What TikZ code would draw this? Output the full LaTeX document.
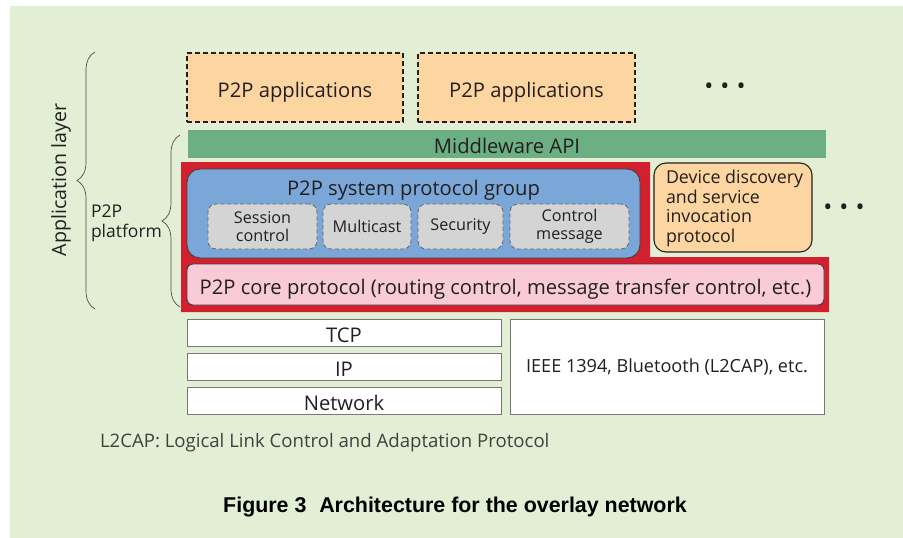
\documentclass[tikz,border=0pt]{standalone}
\usepackage{fontspec}
\setmainfont{Open Sans}
\newfontfamily\capfont{Liberation Sans}
\usetikzlibrary{decorations.pathreplacing}
\definecolor{bgc}{HTML}{E3EFD5}
\definecolor{peach}{HTML}{FDD5A0}
\definecolor{mwgreen}{HTML}{6BAF83}
\definecolor{frame}{HTML}{D2202E}
\definecolor{grpblue}{HTML}{7BA7D8}
\definecolor{subgray}{HTML}{D4D4D4}
\definecolor{corepink}{HTML}{F9CBD8}
\definecolor{ink}{HTML}{231F20}
\definecolor{edge}{HTML}{777777}
\begin{document}
\begin{tikzpicture}[x=1pt,y=-1pt,
  every node/.style={inner sep=0pt,outer sep=0pt,text=ink},
  bigtxt/.style={font=\fontsize{20.2}{24}\selectfont,text height=19.3pt,text depth=0pt},
  apps/.style={bigtxt,draw=ink,fill=peach,dashed,dash pattern=on 5pt off 3pt,line width=1.1pt},
  subbox/.style={draw=black!60,fill=subgray,dashed,dash pattern=on 4pt off 2.5pt,line width=0.8pt,rounded corners=8pt,align=center,font=\fontsize{16.2}{17.5}\selectfont,minimum height=45},
  layerbox/.style={draw=edge,fill=white,line width=1pt,bigtxt},
  bracestyle/.style={draw=black!70,line width=0.7pt,decorate,decoration={brace,amplitude=18pt}},
  dots/.style={font=\fontsize{24}{24}\selectfont}
]
\useasboundingbox (0,0) rectangle (903,538);
\fill[bgc] (10,6) rectangle (903,538);

% application boxes
\node[apps,minimum width=216,minimum height=69] (app1) at (295,87.5) {P2P applications};
\node[apps,minimum width=217,minimum height=69] (app2) at (526.5,87.5) {P2P applications};
\node[dots] (dotsA) at (725,89) {•\hspace{7.2pt}•\hspace{7.2pt}•};

% middleware
\node[fill=mwgreen,minimum width=638,minimum height=28,bigtxt] (mw) at (507,144) {Middleware API};

% red frame around the platform
\fill[frame] (181,162) -- (650,162) -- (650,257) -- (829,257) -- (829,312) -- (181,312) -- cycle;

% protocol group
\node[draw=black!75,fill=grpblue,line width=0.9pt,rounded corners=13pt,minimum width=453,minimum height=89] (grp) at (413.5,213.5) {};
\node[bigtxt] (grpt) at (413.5,185.5) {P2P system protocol group};
\node[subbox,minimum width=109] (sess) at (262.5,226.5) {Session\\control};
\node[subbox,minimum width=88] (mcast) at (367,226.5) {Multicast};
\node[subbox,minimum width=85] (sec) at (460.5,226.5) {Security};
\node[subbox,minimum width=119] (ctrl) at (569.5,226.5) {Control\\message};

% device discovery
\node[draw=ink,fill=peach,line width=1.1pt,rounded corners=12pt,minimum width=158,minimum height=89] (dev) at (733,207.5) {};
\node[anchor=west,align=left,font=\fontsize{17.8}{19.7}\selectfont] (devt) at (666,208.5) {Device discovery\\and service\\invocation\\protocol};
\node[dots] (dotsB) at (844,210) {•\hspace{7.2pt}•\hspace{7.2pt}•};

% core protocol
\node[draw=black!75,fill=corepink,line width=0.9pt,rounded corners=6pt,minimum width=637,minimum height=41,bigtxt] (core) at (505.5,284.5) {P2P core protocol (routing control, message transfer control, etc.)};

% lower layers
\node[layerbox,minimum width=314,minimum height=27] (tcp) at (344,332.5) {TCP};
\node[layerbox,minimum width=314,minimum height=27] (ip) at (344,366.5) {IP};
\node[layerbox,minimum width=314,minimum height=27] (net) at (344,400.5) {Network};
\node[layerbox,minimum width=314,minimum height=95,font=\fontsize{18.1}{22}\selectfont,text height=12.9pt,text depth=0pt] (ieee) at (667,366.5) {IEEE 1394, Bluetooth (L2CAP), etc.};

% braces and their labels
\coordinate (appB) at (95,309);
\coordinate (appT) at (95,52);
\draw[bracestyle] (appB) -- (appT);
\node[font=\fontsize{19.6}{24}\selectfont,rotate=90] (applayer) at (61,180) {Application layer};
\coordinate (platB) at (180,307);
\coordinate (platT) at (180,135);
\draw[bracestyle] (platB) -- (platT);
\node[anchor=west,align=left,font=\fontsize{17.5}{20}\selectfont] (plat) at (91,223) {P2P\\platform};

% notes
\node[anchor=west,font=\fontsize{18.6}{22}\selectfont,text=black!75] (note) at (100,443) {L2CAP: Logical Link Control and Adaptation Protocol};
\node[font=\capfont\bfseries\fontsize{21.4}{24}\selectfont,text=black] (cap) at (455,507.5) {Figure 3\hspace{0.6em}Architecture for the overlay network};
\end{tikzpicture}
\end{document}
